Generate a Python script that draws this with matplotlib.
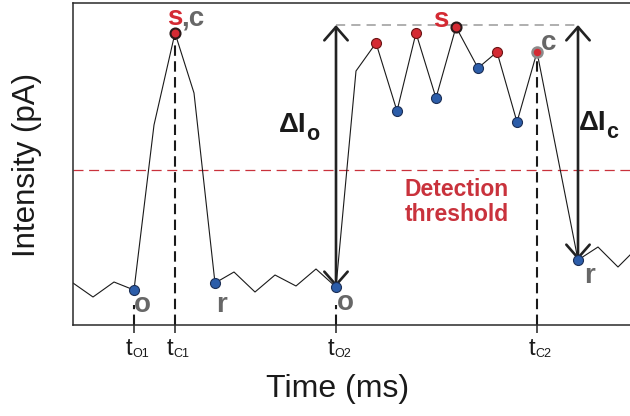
import matplotlib
matplotlib.use("Agg")
import matplotlib.pyplot as plt
from matplotlib.patches import FancyArrowPatch

plt.rcParams['font.family'] = ['Liberation Sans', 'DejaVu Sans']

# ---- data ----
time = [73, 93, 114, 134, 154, 175, 194, 215, 234, 255, 275, 296, 316, 336,
        356, 376, 397, 416, 436, 456, 478, 497, 517, 537, 578, 598, 618, 640]
intensity = [42, 28, 43, 35, 200, 292, 232, 42, 53, 33, 50, 39, 56, 38,
             254, 282, 214, 292, 227, 298, 257, 273, 203, 273, 65, 78, 58, 80]
blue_idx = [3, 7, 13, 16, 18, 20, 22, 24]
red_idx = [5, 15, 17, 19, 21, 23]
sat_idx = [5, 19]       # "s" points (dark edge)
close2_idx = 23         # "c" point of 2nd event (grey edge)
threshold = 155
top_level = 300
event_ticks = [134, 175, 336, 537]
event_subs = ["O1", "C1", "O2", "C2"]
open2_idx, rel2_idx = 13, 24

RED = '#d42a33'
BLUE = '#2c5da9'
GREY = '#676767'
THR = '#c9323c'

fig = plt.figure(figsize=(6.3, 4.16), dpi=100)
W, H = 630, 416
ax_l, ax_r, ax_b, ax_t = 73, 640, 325, 3
ax = fig.add_axes([ax_l / W, (H - ax_b) / H, (ax_r - ax_l) / W, (ax_b - ax_t) / H])
ax.set_xlim(73, 640)
ax.set_ylim(0, 322)

for s in ax.spines.values():
    s.set_linewidth(1.1)
    s.set_color('#2a2a2a')

# threshold
ax.axhline(threshold, color=THR, lw=0.9, ls=(0, (8, 4.5)), zorder=1)

# top grey dashed level
ax.plot([time[open2_idx], time[rel2_idx]], [top_level, top_level],
        color='#9a9a9a', lw=1.1, ls=(0, (6, 4)), zorder=1)

# vertical dashed event lines
for i in [5, 23]:
    ax.plot([time[i], time[i]], [0, intensity[i]], color='#1a1a1a', lw=1.5,
            ls=(0, (5, 2.6)), zorder=1)
for i in [3, 13]:
    ax.plot([time[i], time[i]], [0, 20], color='#1a1a1a', lw=1.5,
            ls=(0, (5, 2.6)), zorder=1)

# trace
ax.plot(time, intensity, color='#1a1a1a', lw=0.8, zorder=2)

# markers
for i in blue_idx:
    ax.plot(time[i], intensity[i], 'o', ms=7.2, mfc=BLUE, mec='#1c2f55', mew=0.8, zorder=4)
for i in red_idx:
    if i in sat_idx:
        mec, mew = '#2a1a1a', 1.5
    elif i == close2_idx:
        mec, mew = '#8c8c8c', 1.8
    else:
        mec, mew = '#6a1515', 0.8
    ax.plot(time[i], intensity[i], 'o', ms=7.2, mfc=RED, mec=mec, mew=mew, zorder=4)

# arrows
for i in [open2_idx, rel2_idx]:
    arr = FancyArrowPatch((time[i], intensity[i]), (time[i], top_level),
                          arrowstyle='<->,head_length=0.48,head_width=0.42',
                          mutation_scale=20, lw=1.9, color='#222222',
                          shrinkA=0, shrinkB=0, zorder=3)
    ax.add_patch(arr)

# texts
fs_lab = 20
ax.text(182, 300, 's', color=RED, fontsize=fs_lab, fontweight='bold', ha='right', va='baseline')
ax.text(181, 300, ',c', color=GREY, fontsize=fs_lab, fontweight='bold', ha='left', va='baseline')
ax.text(441, 298, 's', color=RED, fontsize=fs_lab, fontweight='bold', ha='center', va='baseline')
ax.text(541, 275, 'c', color=GREY, fontsize=fs_lab, fontweight='bold', ha='left', va='baseline')
ax.text(134, 13, 'o', color=GREY, fontsize=fs_lab, fontweight='bold', ha='left', va='baseline')
ax.text(216, 13, 'r', color=GREY, fontsize=fs_lab, fontweight='bold', ha='left', va='baseline')
ax.text(337, 15, 'o', color=GREY, fontsize=fs_lab, fontweight='bold', ha='left', va='baseline')
ax.text(584, 42, 'r', color=GREY, fontsize=fs_lab, fontweight='bold', ha='left', va='baseline')

# Delta I labels: main part + larger, lower subscript
for xr, yb, sub in [(306, 193, 'o'), (606, 195, 'c')]:
    ax.text(xr, yb, '\u0394I', fontsize=20, fontweight='bold', color='#1a1a1a',
            ha='right', va='baseline')
    ax.annotate(sub, xy=(xr, yb), xycoords='data', xytext=(0.3, -6),
                textcoords='offset points', fontsize=15.5, fontweight='bold',
                color='#1a1a1a', ha='left', va='baseline')

ax.text(457, 123, 'Detection\nthreshold', color=THR, fontsize=16.5, fontweight='bold',
        ha='center', va='center', linespacing=1.15)

# ticks
ax.set_yticks([])
ax.set_xticks(event_ticks)
ax.set_xticklabels([''] * len(event_ticks))
ax.tick_params(axis='x', direction='out', length=6, width=1.1, color='#222222')
for x, sub in zip(event_ticks, event_subs):
    ax.annotate('t', xy=(x, 0), xycoords=('data', 'axes fraction'),
                xytext=(-1, -21.5), textcoords='offset points',
                ha='right', va='baseline', fontsize=17, color='#1a1a1a')
    ax.annotate(sub, xy=(x, 0), xycoords=('data', 'axes fraction'),
                xytext=(-1.5, -23), textcoords='offset points',
                ha='left', va='baseline', fontsize=9, color='#1a1a1a')

ax.set_xlabel('Time (ms)', fontsize=23, color='#1a1a1a')
ax.xaxis.set_label_coords((338 - ax_l) / (ax_r - ax_l), -(374 - ax_b) / (ax_b - ax_t))
ax.set_ylabel('Intensity (pA)', fontsize=22.5, color='#1a1a1a')
ax.yaxis.set_label_coords(-(ax_l - 42) / (ax_r - ax_l), 0.497)

fig.savefig('out.png', dpi=100)
